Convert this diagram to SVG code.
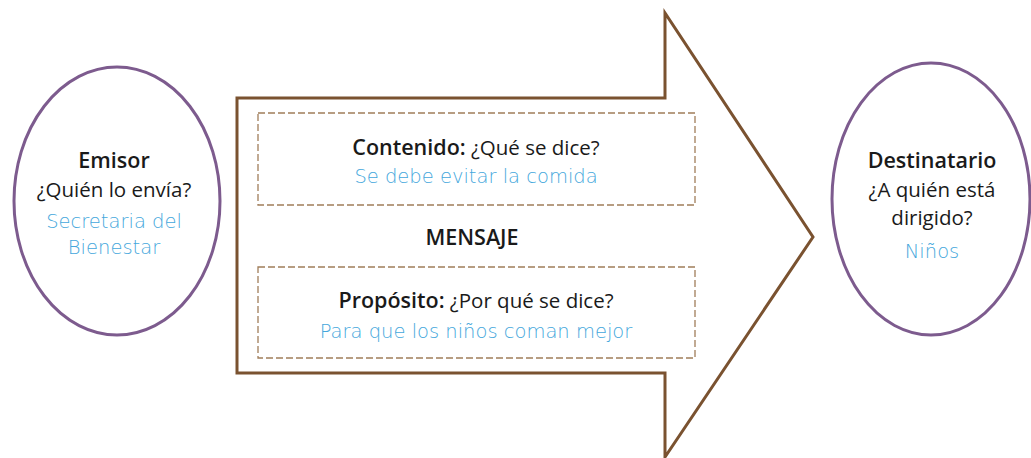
<svg xmlns="http://www.w3.org/2000/svg" width="1031" height="458" viewBox="0 0 1031 458">
<style>
.ell{fill:none;stroke:#7d5b8e;stroke-width:3}
.arrow{fill:#fff;stroke:#7a5230;stroke-width:3;stroke-linejoin:miter}
.dash{fill:none;stroke:#a07d5a;stroke-width:1.3;stroke-dasharray:7 3}
text{font-family:"Open Sans","Liberation Sans",sans-serif;text-anchor:middle;fill:#1a1a1a}
.b{font-weight:600;font-size:21.5px}
.r{font-size:20.5px}
.h{fill:#45a7dc;font-size:19.5px;font-family:"DejaVu Sans","Liberation Sans",sans-serif;font-weight:300}
</style>
<rect width="1031" height="458" fill="#fff"/>
<g id="connectors">
<path class="arrow" d="M237,98 L665,98 L665,13 L813,237 L665,457 L665,373 L237,373 Z"/>
</g>
<g id="emisor">
<ellipse class="ell" cx="117" cy="201" rx="103" ry="134"/>
<text class="b" x="114" y="168">Emisor</text>
<text class="r" x="114" y="197">¿Quién lo envía?</text>
<text class="h" x="114" y="228">Secretaria del</text>
<text class="h" x="114" y="254">Bienestar</text>
</g>
<g id="mensaje">
<text class="b" x="472" y="245">MENSAJE</text>
</g>
<g id="contenido">
<rect class="dash" x="258" y="113" width="437" height="92"/>
<text x="476" y="155" class="r"><tspan class="b">Contenido:</tspan> ¿Qué se dice?</text>
<text class="h" x="476" y="183">Se debe evitar la comida</text>
</g>
<g id="proposito">
<rect class="dash" x="258" y="267" width="437" height="91"/>
<text x="476" y="308" class="r"><tspan class="b">Propósito:</tspan> ¿Por qué se dice?</text>
<text class="h" x="476" y="338">Para que los niños coman mejor</text>
</g>
<g id="destinatario">
<ellipse class="ell" cx="931" cy="199" rx="99" ry="136"/>
<text class="b" x="932" y="168">Destinatario</text>
<text class="r" x="932" y="197">¿A quién está</text>
<text class="r" x="932" y="225">dirigido?</text>
<text class="h" x="932" y="258">Niños</text>
</g>
</svg>
